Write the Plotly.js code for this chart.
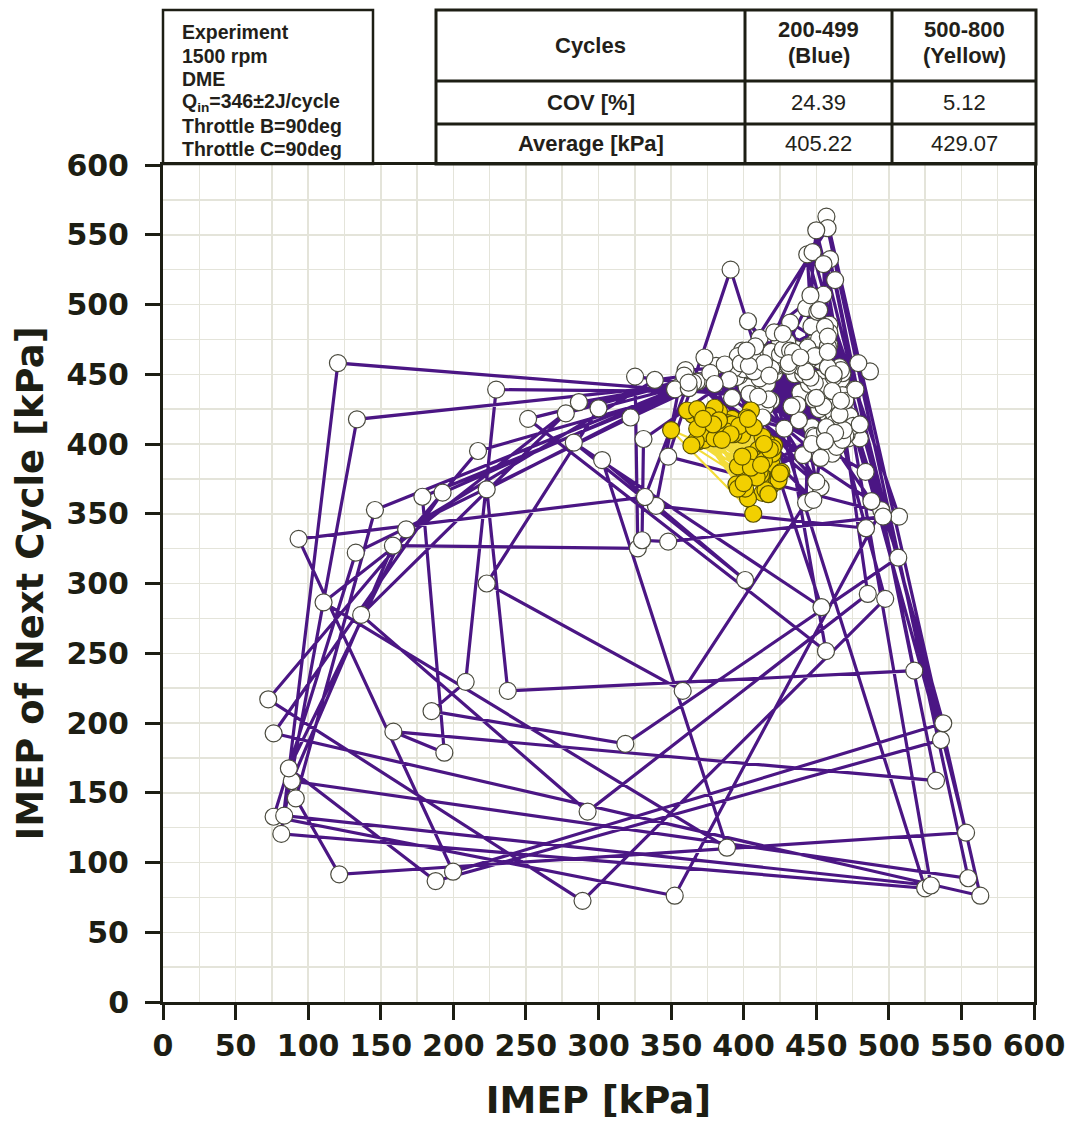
<!DOCTYPE html>
<html>
<head>
<meta charset="utf-8">
<script src="https://cdn.plot.ly/plotly-3.0.1.min.js"></script>
<style>
  html, body { margin: 0; padding: 0; background: #ffffff; }
  #chart { width: 1072px; height: 1124px; }
</style>
</head>
<body>
<div id="chart"></div>
<script>
// IMEP of consecutive cycles, cycles 200-499 (drawn purple / white symbols)
const imepCycles200to499 = [
  447, 412, 438, 465, 402, 441, 458, 421, 451, 466,
  455, 507, 348, 391, 525, 81.5, 120.5, 458,
  430, 469, 408, 452, 427, 461, 397, 449, 473, 416,
  443, 497.5, 289, 72.5, 217, 395,
  448, 406, 418, 462, 441, 392, 433, 465, 410,
  459, 485.5, 292.5, 136.5, 277.5, 422,
  463, 425, 472, 404, 381, 456, 399, 467,
  446, 506.5, 318.5, 185, 208.5, 229.5, 439,
  437, 428, 411, 476, 439, 462, 403, 453, 369, 445,
  443, 358, 223, 300, 425.6,
  460, 414, 449, 405, 423, 456, 396,
  463, 517.5, 237.5, 223, 367.5, 444.7,
  470, 419, 431, 458, 477, 411, 447, 400,
  453.6, 283, 401, 302.5, 388.5, 110.6, 286.5, 430,
  456, 409, 468, 435, 450, 373, 462, 422,
  456.7, 251.5, 418,
  461, 393, 454, 432, 470, 407, 377, 451,
  446.7, 484.3, 339.6, 355.6, 441,
  463, 415, 427, 459, 480, 404, 436, 468,
  450.7, 494.8, 352.5, 76.2, 132.8, 322.1, 419,
  466, 401, 458, 430, 473, 420, 387, 457, 412,
  457, 563, 76.2, 192.6, 365.1, 444,
  459, 471, 407, 452, 425, 464, 398,
  457.8, 554.7, 88.7, 158.4, 327.1, 325.2, 448.3,
  432, 487, 452, 475.4, 413, 419, 454, 441,
  450, 553.2, 121.4, 91.5, 146, 352.7, 439.2,
  458, 470, 406, 462, 448, 360, 453,
  459.5, 532.5, 158.7, 193.8, 178.7, 362.2, 440,
  455, 427, 468, 403, 488, 359, 449,
  443.8, 535.9, 187.8, 86.7, 167.5, 338.8, 445.9,
  461, 438, 417, 432, 467, 453, 390, 446,
  447.5, 537.5, 199.8, 93.4, 332, 362, 444,
  469, 410, 434, 466, 421, 480, 414, 458,
  455, 529, 83.5, 133.6, 417.7,
  449, 463, 408, 470, 431, 456, 484, 380, 443,
  452, 496, 348, 330, 331, 403.6,
  456, 402, 467, 431, 458, 477, 439, 462, 450, 433, 427, 479, 458, 466
];

// IMEP of consecutive cycles, cycles 500-800 (drawn yellow)
const imepCycles500to800 = [
  398, 412, 386, 405, 424, 377, 407, 392, 418, 369,
  402, 375, 410, 396, 384, 413, 365, 421, 399, 406.6,
  350, 410, 383, 423, 373, 403, 361, 424, 374, 408,
  389, 415, 367, 402, 419, 386, 412, 378, 417, 395,
  371, 420, 393, 407, 384, 416, 401, 368, 411, 380,
  426, 380, 404, 392, 414, 388, 409, 376, 420, 397,
  413, 405, 383, 417, 364, 399, 391, 407, 412, 385,
  403, 418, 396, 368, 425, 379, 414, 400, 372, 418
];

// Test conditions shown in the box above the plot
const conditionLines = [
  'Experiment',
  '1500 rpm',
  'DME',
  'Q<sub>in</sub>=346±2J/cycle',
  'Throttle B=90deg',
  'Throttle C=90deg'
];

// Statistics table
const tableHeader = ['Cycles', ['200-499', '(Blue)'], ['500-800', '(Yellow)']];
const tableRowLabels = ['COV [%]', 'Average [kPa]'];
const statsBlue = ['24.39', '405.22'];
const statsYellow = ['5.12', '429.07'];

// Return map: each cycle's IMEP against the IMEP of the following cycle
function returnMap(seq) {
  return { x: seq.slice(0, -1), y: seq.slice(1) };
}

const blueMap = returnMap(imepCycles200to499);
const yellowMap = returnMap(imepCycles500to800);

const INK = '#1d1e14';
const GRID = '#e4e4da';

const traces = [
  {
    type: 'scatter', mode: 'lines+markers',
    x: blueMap.x, y: blueMap.y,
    line: { color: '#4b1684', width: 3.2 },
    marker: { symbol: 'circle', size: 17, color: '#ffffff',
              line: { color: '#4a4a3e', width: 1.2 } },
    hoverinfo: 'x+y'
  },
  {
    type: 'scatter', mode: 'lines+markers',
    x: yellowMap.x, y: yellowMap.y,
    line: { color: '#f3dc3a', width: 2.2 },
    marker: { symbol: 'circle', size: 17, color: '#f2d000',
              line: { color: '#5a5200', width: 1.2 } },
    hoverinfo: 'x+y'
  }
];

// paper-coordinate helpers for the boxes drawn above the plot area
const plotLeft = 163, plotRight = 1034, plotTop = 165, plotBottom = 1002;
const px = X => (X - plotLeft) / (plotRight - plotLeft);
const py = Y => (plotBottom - Y) / (plotBottom - plotTop);

const shapes = [];
const border = { color: INK, width: 3 };
// conditions box
shapes.push({ type: 'rect', xref: 'paper', yref: 'paper',
  x0: px(163), x1: px(373), y0: py(164), y1: py(10), line: { color: INK, width: 2.5 } });
// statistics table frame and dividers
shapes.push({ type: 'rect', xref: 'paper', yref: 'paper',
  x0: px(436), x1: px(1036), y0: py(164), y1: py(10), line: border });
[745, 892].forEach(X => shapes.push({ type: 'line', xref: 'paper', yref: 'paper',
  x0: px(X), x1: px(X), y0: py(164), y1: py(10), line: border }));
[81, 124].forEach(Y => shapes.push({ type: 'line', xref: 'paper', yref: 'paper',
  x0: px(436), x1: px(1036), y0: py(Y), y1: py(Y), line: border }));

const annotations = [];
const boxFont = { family: 'Liberation Sans, Arial, sans-serif', size: 19.5, color: '#231f1a' };
const tabFont = { family: 'Liberation Sans, Arial, sans-serif', size: 22, color: '#231f1a' };

conditionLines.forEach((t, i) => {
  annotations.push({ xref: 'paper', yref: 'paper', x: px(180), y: py(32 + i * 23.5),
    xanchor: 'left', yanchor: 'middle', showarrow: false, align: 'left',
    text: '<b>' + t + '</b>', font: boxFont });
});

const colCenters = [(436 + 745) / 2, (745 + 892) / 2, (892 + 1036) / 2];
const rowCenters = [45.5, 102.5, 143.5];

function cell(X, Y, text, bold) {
  annotations.push({ xref: 'paper', yref: 'paper', x: px(X), y: py(Y),
    xanchor: 'center', yanchor: 'middle', showarrow: false,
    text: bold ? '<b>' + text + '</b>' : text, font: tabFont });
}

cell(colCenters[0], rowCenters[0], tableHeader[0], true);
cell(colCenters[1], 29, tableHeader[1][0], true);
cell(colCenters[1], 55, tableHeader[1][1], true);
cell(colCenters[2], 29, tableHeader[2][0], true);
cell(colCenters[2], 55, tableHeader[2][1], true);
tableRowLabels.forEach((t, i) => {
  cell(colCenters[0], rowCenters[i + 1], t, true);
  cell(colCenters[1], rowCenters[i + 1], statsBlue[i], false);
  cell(colCenters[2], rowCenters[i + 1], statsYellow[i], false);
});

const axisFont = { family: 'DejaVu Sans, sans-serif', size: 30, color: INK, weight: 'bold' };
const titleFont = { family: 'DejaVu Sans, sans-serif', size: 37, color: INK, weight: 'bold' };

function axis(titleText, standoff, labelGap) {
  return {
    range: [0, 600], tick0: 0, dtick: 50, autorange: false,
    showgrid: true, gridcolor: GRID, gridwidth: 1.5,
    minor: { dtick: 25, showgrid: true, gridcolor: GRID, gridwidth: 1.5, ticks: '' },
    zeroline: false,
    showline: true, linecolor: INK, linewidth: 3, mirror: true,
    ticks: 'outside', ticklen: 15, tickwidth: 3, tickcolor: INK,
    tickfont: axisFont, ticklabelstandoff: labelGap,
    title: { text: titleText, font: titleFont, standoff: standoff },
    automargin: false, fixedrange: true
  };
}

const layout = {
  width: 1072, height: 1124,
  margin: { l: plotLeft, r: 1072 - plotRight, t: plotTop, b: 1124 - plotBottom },
  paper_bgcolor: '#ffffff', plot_bgcolor: '#ffffff',
  showlegend: false,
  xaxis: axis('IMEP [kPa]', 26, 0),
  yaxis: axis('IMEP of Next Cycle [kPa]', 12, 10),
  shapes: shapes,
  annotations: annotations
};

Plotly.newPlot('chart', traces, layout, { displayModeBar: false, staticPlot: true });
</script>
</body>
</html>
